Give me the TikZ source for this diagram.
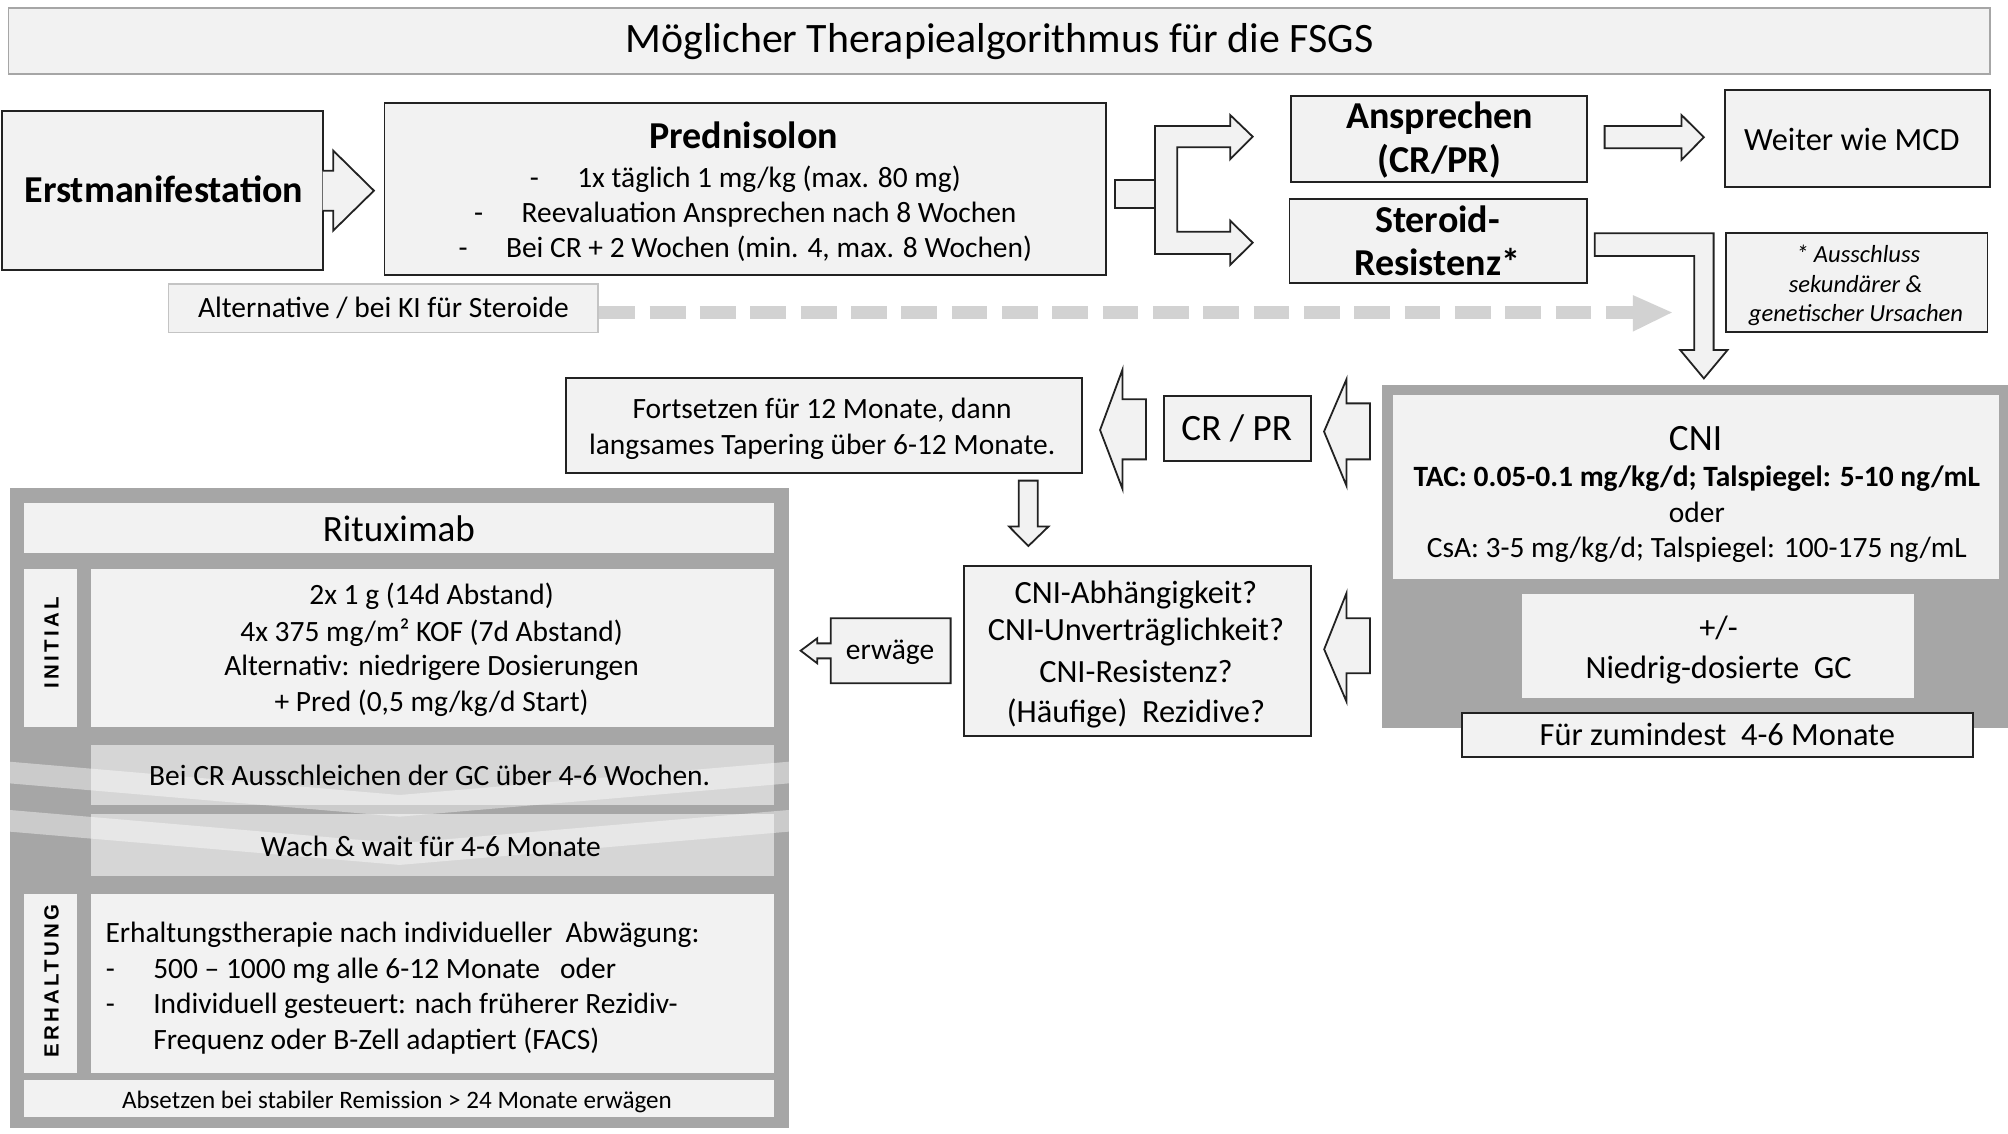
\documentclass[tikz,border=0pt]{standalone}
\usepackage{fontspec}
\setmainfont{Carlito}
\newfontfamily\lblfont[LetterSpace=16]{Liberation Sans}
\definecolor{lg}{HTML}{F2F2F2}
\definecolor{mg}{HTML}{A6A6A6}
\definecolor{cg}{HTML}{D6D6D6}
\definecolor{dg}{HTML}{222222}
\definecolor{ag}{HTML}{D2D2D2}
\definecolor{bl}{HTML}{C4C4C4}
\newcommand\boxat[6]{\node[#6, minimum width={(#4)-(#2)}, minimum height={(#5)-(#3)}] (#1) at ({((#2)+(#4))/2},{((#3)+(#5))/2}) {};}
\tikzset{
  box/.style={draw=dg, line width=1.4pt, fill=lg, inner sep=0pt},
  tbox/.style={draw=mg, line width=1.4pt, fill=lg, inner sep=0pt},
  abox/.style={draw=bl, line width=1.2pt, fill=lg, inner sep=0pt},
  pbox/.style={fill=lg, draw=none, inner sep=0pt},
  gbox/.style={fill=mg, draw=none, inner sep=0pt},
  cbox/.style={fill=cg, draw=none, inner sep=0pt},
  barrow/.style={draw=dg, line width=1.4pt, fill=lg, line join=miter},
  band/.style={fill=white, fill opacity=0.42, draw=none},
  tx/.style={inner sep=0pt, text depth=0pt},
  fa/.style={tx, font=\fontsize{23}{28}\selectfont, text height=14.7pt},
  fab/.style={tx, font=\fontsize{23}{28}\selectfont\bfseries, text height=14.7pt},
  fhb/.style={tx, font=\fontsize{29.7}{35}\selectfont\bfseries, text height=19pt},
  fh/.style={tx, font=\fontsize{29}{35}\selectfont, text height=18.6pt},
  fm/.style={tx, font=\fontsize{25.3}{30}\selectfont, text height=16.2pt},
  fi/.style={tx, font=\fontsize{19.2}{23}\selectfont\itshape, text height=12.3pt},
  fs/.style={tx, font=\fontsize{19.6}{23}\selectfont, text height=12.5pt},
  ft/.style={tx, font=\fontsize{32.7}{38}\selectfont, text height=20.9pt},
  lbl/.style={tx, font=\lblfont\bfseries\fontsize{16}{19}\selectfont, text height=11.5pt, rotate=90},
}
\begin{document}
\begin{tikzpicture}[x=1pt,y=-1pt]
\useasboundingbox (0,0) rectangle (1568,885);

% title
\boxat{title}{6.6}{6}{1554}{57.8}{tbox}
\node[ft] (ttitle) at (780.5,30.5) {Möglicher Therapiealgorithmus für die FSGS};

% top row
\boxat{erst}{1.6}{86.7}{252}{210.8}{box}
\node[fhb] (terst) at (128,148.9) {Erstmanifestation};
\draw[barrow] (252,133.3) -- (260.2,133.3) -- (260.2,117.6) -- (292,148.9) -- (260.2,180.1) -- (260.2,164.5) -- (252,164.5);

\boxat{pred}{300.2}{80.2}{863.7}{214.7}{box}
\node[fhb] (tpred) at (580.7,106.7) {Prednisolon};
\node[fa] (tp1) at (582,139.3) {-\hspace{30pt}1x täglich 1 mg/kg (max. 80 mg)};
\node[fa] (tp2) at (582,166.6) {-\hspace{30pt}Reevaluation Ansprechen nach 8 Wochen};
\node[fa] (tp3) at (582,193.9) {-\hspace{30pt}Bei CR + 2 Wochen (min. 4, max. 8 Wochen)};

% fork
\boxat{fork}{870.7}{140.6}{901.9}{162.7}{box}
\draw[barrow] (901.9,98.4) -- (960.6,98.4) -- (960.6,89.8) -- (978.2,106.7) -- (960.6,124.4) -- (960.6,115) -- (919.3,115) -- (919.3,180.9) -- (960.6,180.9) -- (960.6,172.3) -- (978.2,189.5) -- (960.6,206.9) -- (960.6,198.3) -- (901.9,198.3) -- cycle;

\boxat{ansp}{1008}{74.7}{1239}{141.9}{box}
\node[fhb] (tansp1) at (1124.3,91.1) {Ansprechen};
\node[fhb] (tansp2) at (1124,124.9) {(CR/PR)};

\draw[barrow] (1253,98.4) -- (1313,98.4) -- (1313,89.8) -- (1330.5,107.2) -- (1313,124.9) -- (1313,115.8) -- (1253,115.8) -- cycle;
\boxat{weiter}{1347.1}{70.3}{1554}{145.8}{box}
\node[fm] (tweiter) at (1446,109.3) {Weiter wie MCD};

\boxat{ster}{1007}{155.6}{1239}{220.7}{box}
\node[fhb] (tster1) at (1122.5,171.8) {Steroid-};
\node[fhb] (tster2) at (1122.3,205.6) {Resistenz*};

\draw[barrow] (1245.3,182.2) -- (1338.1,182.2) -- (1338.1,273.3) -- (1349,273.3) -- (1330.5,295.5) -- (1312,273.3) -- (1323,273.3) -- (1323,199.9) -- (1245.3,199.9) -- cycle;

\boxat{fn}{1348}{182}{1552}{259}{box}
\node[fi] (tfn1) at (1451,199.1) {* Ausschluss};
\node[fi] (tfn2) at (1449,222.5) {sekundärer \&};
\node[fi] (tfn3) at (1449.3,244.7) {genetischer Ursachen};

% alternative
\boxat{alt}{131.6}{221.8}{467}{259.8}{abox}
\node[fa] (talt) at (299.4,240.4) {Alternative / bei KI für Steroide};
\draw[ag, line width=10pt, dash pattern=on 28pt off 11.3pt] (468,244) -- (1276,244);
\fill[ag] (1275,230.4) -- (1305.5,244) -- (1275,259) -- cycle;

% middle row
\boxat{fort}{441.7}{295.4}{845.2}{369.6}{box}
\node[fa] (tfort1) at (642,319.6) {Fortsetzen für 12 Monate, dann};
\node[fa] (tfort2) at (642,347.5) {langsames Tapering über 6-12 Monate.};

\draw[barrow] (894.8,311.8) -- (876.6,311.8) -- (876.6,288.4) -- (859,335.8) -- (876.6,382) -- (876.6,358.7) -- (894.8,358.7) -- cycle;
\boxat{crpr}{909}{309}{1024}{359.7}{box}
\node[fh] (tcrpr) at (965.7,334.5) {CR / PR};
\draw[barrow] (1069.8,315) -- (1051.5,315) -- (1051.5,296) -- (1033.9,337) -- (1051.5,379.5) -- (1051.5,358.7) -- (1069.8,358.7) -- cycle;

% CNI group
\boxat{cnig}{1079}{300.6}{1568}{568.7}{gbox}
\boxat{cni}{1088}{308.4}{1561}{452.4}{pbox}
\node[fh] (tcni) at (1324,342.3) {CNI};
\node[fab] (ttac) at (1325,372.7) {TAC: 0.05-0.1 mg/kg/d; Talspiegel: 5-10 ng/mL};
\node[fa] (toder) at (1325,400.8) {oder};
\node[fa] (tcsa) at (1325,428.2) {CsA: 3-5 mg/kg/d; Talspiegel: 100-175 ng/mL};
\boxat{gc}{1188.4}{463.8}{1494.7}{545}{pbox}
\node[fm] (tgc1) at (1342,490.6) {+/-};
\node[fm] (tgc2) at (1342,521.9) {Niedrig-dosierte~ GC};
\boxat{fuer}{1141.5}{556.5}{1540.5}{591.4}{box}
\node[fm] (tfuer) at (1341,573.9) {Für zumindest~ 4-6 Monate};

% down arrow and questions
\draw[barrow] (795.5,375.3) -- (810.4,375.3) -- (810.4,411.2) -- (818.7,411.2) -- (803,426.4) -- (788,411.2) -- (795.5,411.2) -- cycle;
\boxat{quest}{752.5}{442}{1024}{575}{box}
\node[fm] (tq1) at (887,463.3) {CNI-Abhängigkeit?};
\node[fm] (tq2) at (887,492.4) {CNI-Unverträglichkeit?};
\node[fm] (tq3) at (887,524.5) {CNI-Resistenz?};
\node[fm] (tq4) at (887,555.7) {(Häufige)~ Rezidive?};
\draw[barrow] (1069.8,482.8) -- (1051.5,482.8) -- (1051.5,463) -- (1034,507) -- (1051.5,548) -- (1051.5,525.8) -- (1069.8,525.8) -- cycle;

% erwaege
\draw[barrow] (742.3,482.8) -- (648.7,482.8) -- (648.7,502.4) -- (638.2,502.4) -- (638.2,498.4) -- (625.2,508.1) -- (638.2,518) -- (638.2,514.1) -- (648.7,514.1) -- (648.7,533.6) -- (742.3,533.6) -- cycle;
\node[fa] (terw) at (695,508) {erwäge};

% Rituximab panel
\boxat{ritg}{7.5}{381.3}{616}{881.1}{gbox}
\boxat{rit}{19}{392.5}{604}{431.5}{pbox}
\node[fh] (trit) at (311.5,413.4) {Rituximab};
\boxat{ini}{19}{444.3}{60}{568}{pbox}
\node[lbl] (tini) at (40,502) {INITIAL};
\boxat{inic}{71}{444.3}{604}{568}{pbox}
\node[fa] (ti1) at (337,464.6) {2x 1 g (14d Abstand)};
\node[fa] (ti2) at (337,493.2) {4x 375 mg/m² KOF (7d Abstand)};
\node[fa] (ti3) at (337,520) {Alternativ: niedrigere Dosierungen};
\node[fa] (ti4) at (337,547.9) {+ Pred (0,5 mg/kg/d Start)};

\boxat{ch1}{71}{581.8}{604}{628.6}{cbox}
\boxat{ch2}{71}{635.6}{604}{684}{cbox}
\fill[band] (7.5,594.8) -- (312,620.8) -- (616,594.8) -- (616,611.7) -- (312,637.7) -- (7.5,611.7) -- cycle;
\fill[band] (7.5,632.5) -- (312,658.5) -- (616,632.5) -- (616,649.4) -- (312,675.4) -- (7.5,649.4) -- cycle;
\node[fa] (tch1) at (335.5,606) {Bei CR Ausschleichen der GC über 4-6 Wochen.};
\node[fa] (tch2) at (336.5,661.7) {Wach \& wait für 4-6 Monate};

\boxat{erh}{19}{698}{60}{837.7}{pbox}
\node[lbl] (terh) at (40,766) {ERHALTUNG};
\boxat{erhc}{71}{698}{604}{837.7}{pbox}
\node[fa, anchor=west] (te1) at (82.2,728.3) {Erhaltungstherapie nach individueller~ Abwägung:};
\node[fa, anchor=west] (te2) at (82.5,756.7) {\makebox[37pt][l]{-}500 – 1000 mg alle 6-12 Monate~~ oder};
\node[fa, anchor=west] (te3) at (82.5,784.3) {\makebox[37pt][l]{-}Individuell gesteuert: nach früherer Rezidiv-};
\node[fa, anchor=west] (te4) at (82.5,812.2) {\hspace*{37pt}Frequenz oder B-Zell adaptiert (FACS)};

\boxat{abs}{19}{843}{604}{872}{pbox}
\node[fs] (tabs) at (310,859) {Absetzen bei stabiler Remission > 24 Monate erwägen};
\end{tikzpicture}
\end{document}
